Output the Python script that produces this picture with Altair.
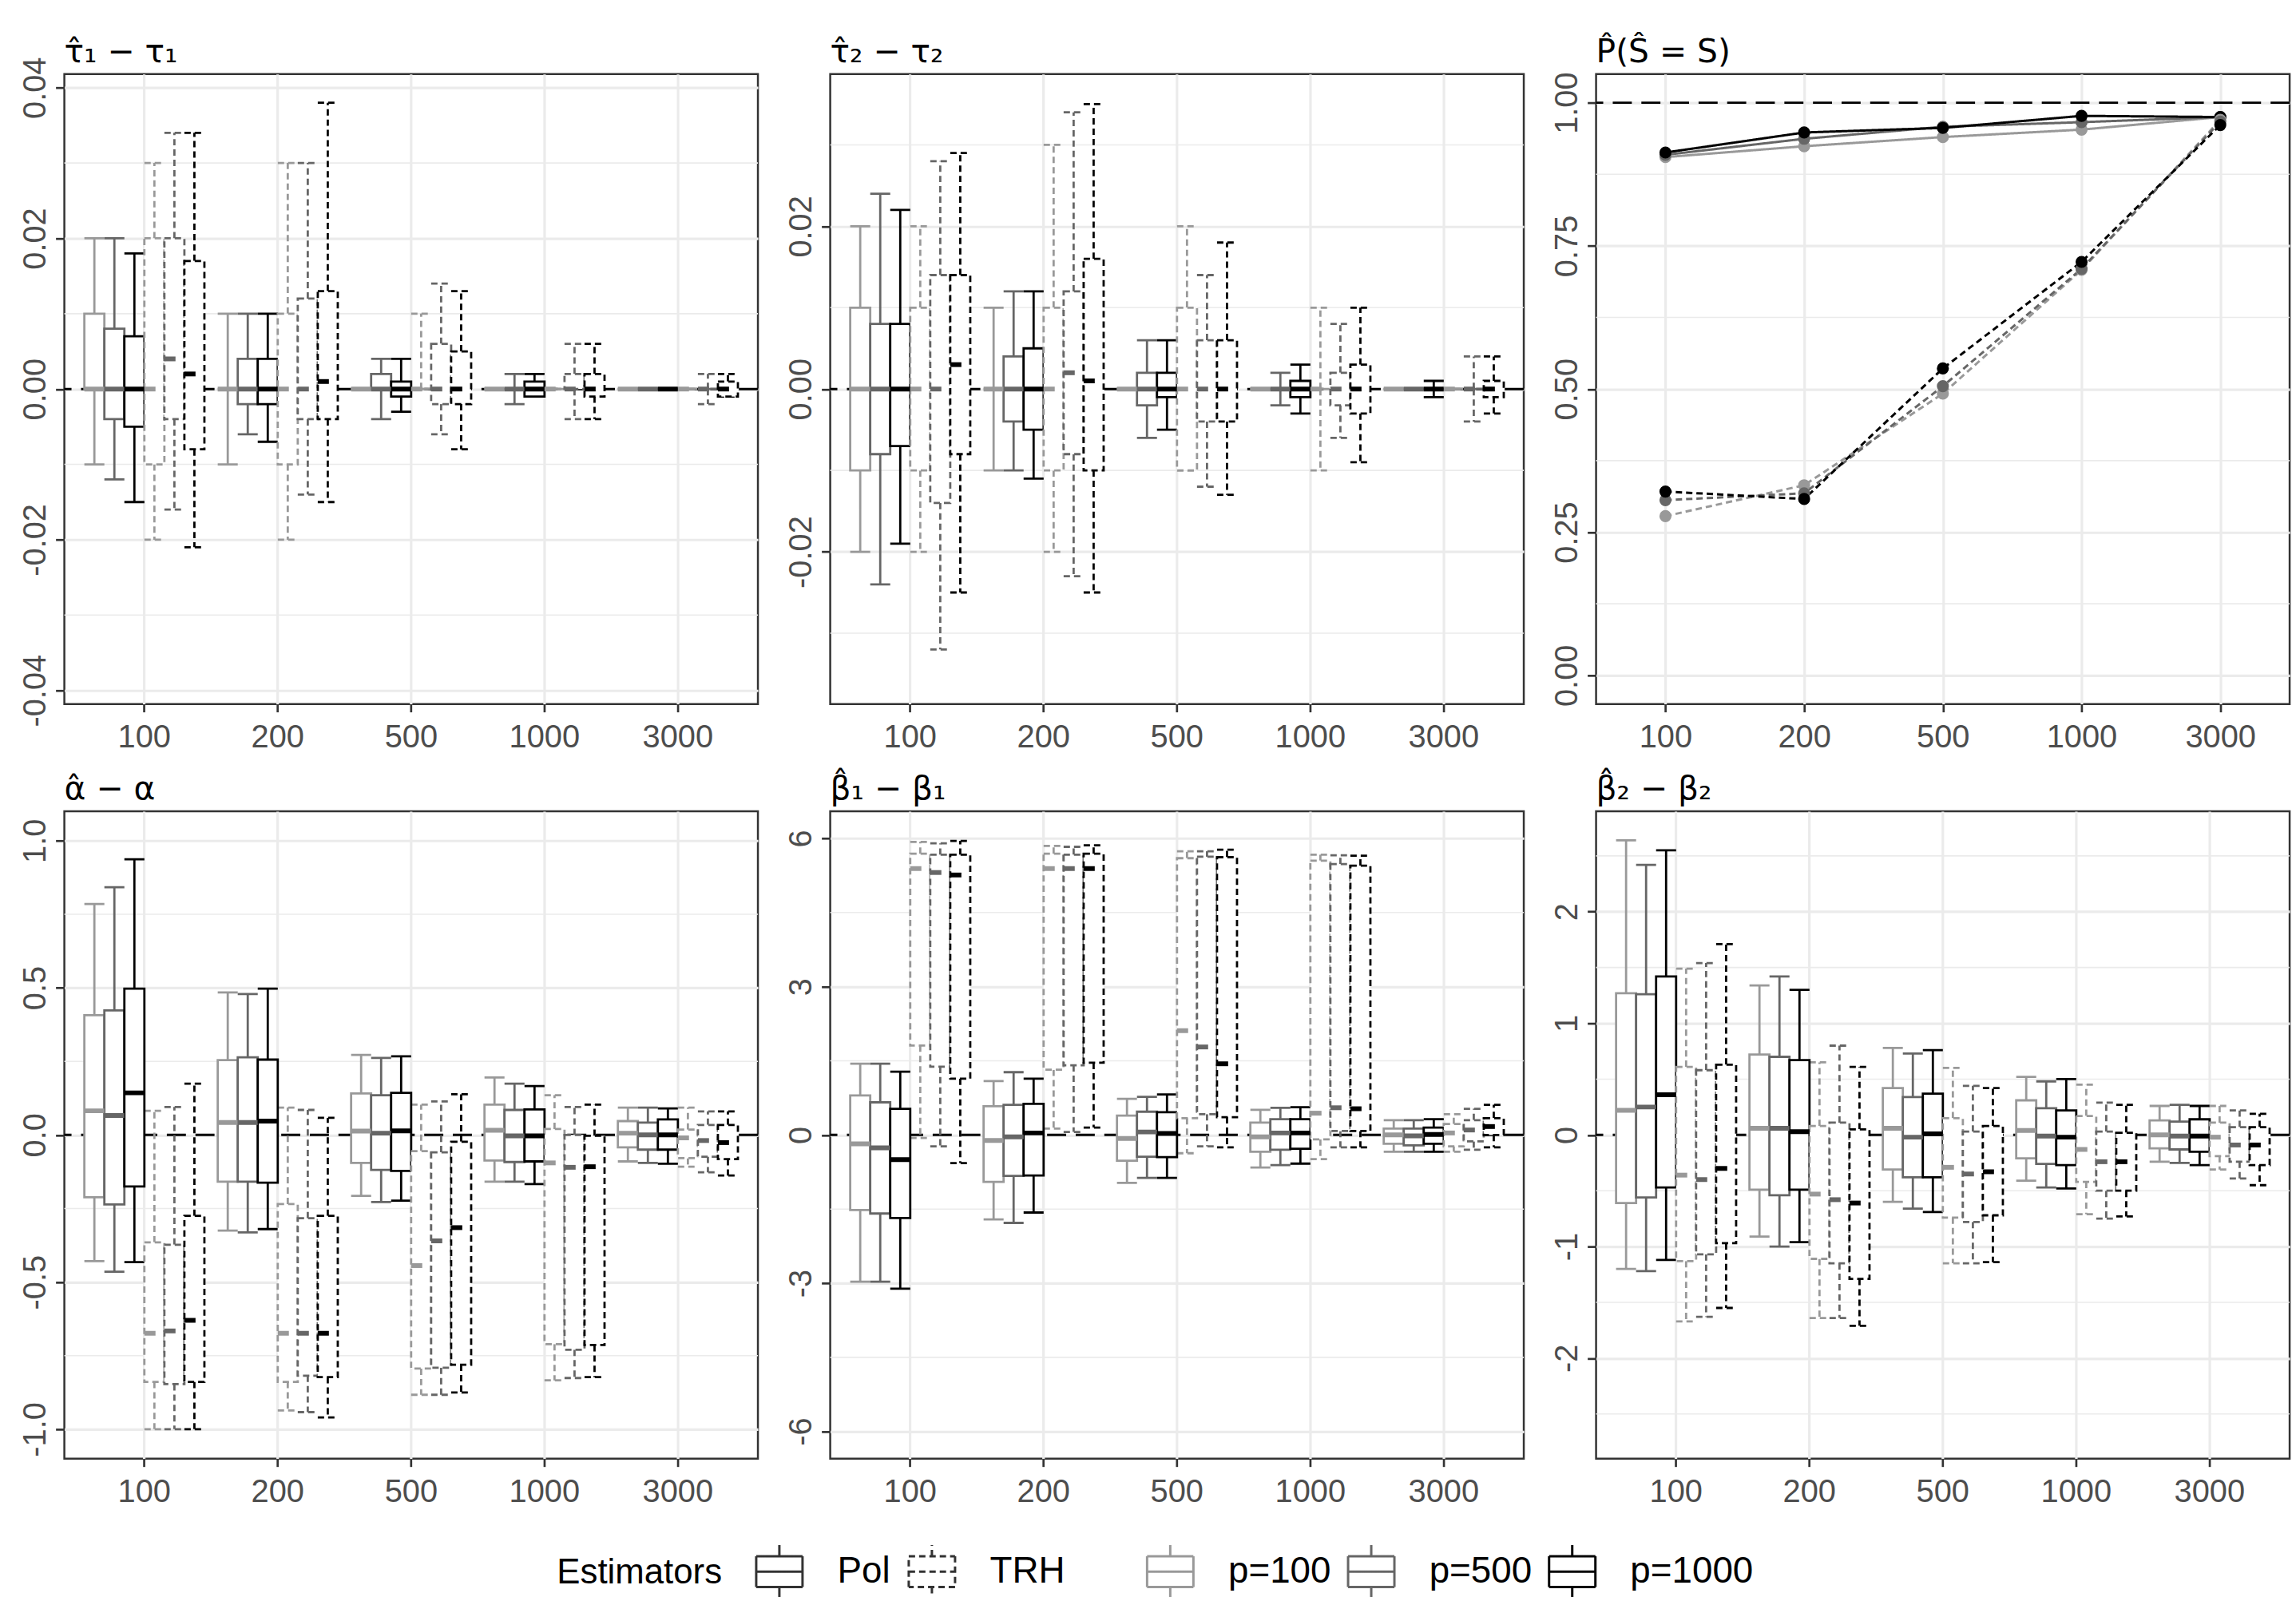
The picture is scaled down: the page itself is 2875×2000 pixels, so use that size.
import altair as alt
import pandas as pd

# ---- categories -----------------------------------------------------------
N_LABELS = ["100", "200", "500", "1000", "3000"]
P_LABELS = ["p=100", "p=500", "p=1000"]
P_COLOURS = ["#999999", "#666666", "#000000"]
ESTIMATORS = ["Pol", "TRH"]
EST_DASHES = [[1, 0], [8, 5]]
GROUPS = [f"{e} {p}" for e in ESTIMATORS for p in P_LABELS]

# ---- box summaries: per sample size (lower whisker, Q1, median, Q3, upper whisker)
TAU1 = {
    "Pol": {
        "p=100": [(-0.010, 0.000, 0.0, 0.010, 0.020), (-0.010, 0.0, 0.0, 0.0, 0.010),
                  (0.0, 0.0, 0.0, 0.0, 0.0), (0.0, 0.0, 0.0, 0.0, 0.0), (0.0, 0.0, 0.0, 0.0, 0.0)],
        "p=500": [(-0.012, -0.004, 0.0, 0.008, 0.020), (-0.006, -0.002, 0.0, 0.004, 0.010),
                  (-0.004, 0.0, 0.0, 0.002, 0.004), (-0.002, 0.0, 0.0, 0.0, 0.002), (0.0, 0.0, 0.0, 0.0, 0.0)],
        "p=1000": [(-0.015, -0.005, 0.0, 0.007, 0.018), (-0.007, -0.002, 0.0, 0.004, 0.010),
                   (-0.003, -0.001, 0.0, 0.001, 0.004), (-0.001, -0.001, 0.0, 0.001, 0.002), (0.0, 0.0, 0.0, 0.0, 0.0)],
    },
    "TRH": {
        "p=100": [(-0.020, -0.010, 0.0, 0.020, 0.030), (-0.020, -0.010, 0.0, 0.010, 0.030),
                  (0.0, 0.0, 0.0, 0.0, 0.010), (0.0, 0.0, 0.0, 0.0, 0.0), (0.0, 0.0, 0.0, 0.0, 0.0)],
        "p=500": [(-0.016, -0.004, 0.004, 0.020, 0.034), (-0.014, -0.004, 0.0, 0.012, 0.030),
                  (-0.006, -0.002, 0.0, 0.006, 0.014), (-0.004, 0.0, 0.0, 0.002, 0.006), (-0.002, 0.0, 0.0, 0.0, 0.002)],
        "p=1000": [(-0.021, -0.008, 0.002, 0.017, 0.034), (-0.015, -0.004, 0.001, 0.013, 0.038),
                   (-0.008, -0.002, 0.0, 0.005, 0.013), (-0.004, -0.001, 0.0, 0.002, 0.006), (-0.001, -0.001, 0.0, 0.001, 0.002)],
    },
}

TAU2 = {
    "Pol": {
        "p=100": [(-0.020, -0.010, 0.0, 0.010, 0.020), (-0.010, 0.0, 0.0, 0.0, 0.010),
                  (0.0, 0.0, 0.0, 0.0, 0.0), (0.0, 0.0, 0.0, 0.0, 0.0), (0.0, 0.0, 0.0, 0.0, 0.0)],
        "p=500": [(-0.024, -0.008, 0.0, 0.008, 0.024), (-0.010, -0.004, 0.0, 0.004, 0.012),
                  (-0.006, -0.002, 0.0, 0.002, 0.006), (-0.002, 0.0, 0.0, 0.0, 0.002), (0.0, 0.0, 0.0, 0.0, 0.0)],
        "p=1000": [(-0.019, -0.007, 0.0, 0.008, 0.022), (-0.011, -0.005, 0.0, 0.005, 0.012),
                   (-0.005, -0.001, 0.0, 0.002, 0.006), (-0.003, -0.001, 0.0, 0.001, 0.003), (-0.001, 0.0, 0.0, 0.0, 0.001)],
    },
    "TRH": {
        "p=100": [(-0.020, -0.010, 0.0, 0.010, 0.020), (-0.020, -0.010, 0.0, 0.010, 0.030),
                  (-0.010, -0.010, 0.0, 0.010, 0.020), (-0.010, 0.0, 0.0, 0.0, 0.010), (0.0, 0.0, 0.0, 0.0, 0.0)],
        "p=500": [(-0.032, -0.014, 0.0, 0.014, 0.028), (-0.023, -0.008, 0.002, 0.012, 0.034),
                  (-0.012, -0.004, 0.0, 0.006, 0.014), (-0.006, -0.002, 0.0, 0.002, 0.008), (-0.004, 0.0, 0.0, 0.0, 0.004)],
        "p=1000": [(-0.025, -0.008, 0.003, 0.014, 0.029), (-0.025, -0.010, 0.001, 0.016, 0.035),
                   (-0.013, -0.004, 0.0, 0.006, 0.018), (-0.009, -0.003, 0.0, 0.003, 0.010), (-0.003, -0.001, 0.0, 0.001, 0.004)],
    },
}

ALPHA = {
    "Pol": {
        "p=100": [(-0.429, -0.212, 0.082, 0.407, 0.785), (-0.325, -0.159, 0.042, 0.254, 0.484),
                  (-0.207, -0.095, 0.013, 0.141, 0.272), (-0.159, -0.087, 0.016, 0.103, 0.195), (-0.090, -0.042, 0.006, 0.047, 0.093)],
        "p=500": [(-0.465, -0.236, 0.066, 0.423, 0.842), (-0.331, -0.159, 0.042, 0.264, 0.479),
                  (-0.228, -0.119, 0.006, 0.135, 0.262), (-0.159, -0.092, -0.003, 0.085, 0.174), (-0.095, -0.050, 0.0, 0.042, 0.093)],
        "p=1000": [(-0.432, -0.175, 0.143, 0.497, 0.937), (-0.320, -0.162, 0.047, 0.256, 0.497),
                   (-0.223, -0.122, 0.014, 0.143, 0.267), (-0.167, -0.090, -0.003, 0.087, 0.166), (-0.098, -0.050, 0.0, 0.053, 0.090)],
    },
    "TRH": {
        "p=100": [(-1.000, -0.839, -0.674, -0.365, 0.082), (-0.936, -0.839, -0.674, -0.235, 0.093),
                  (-0.883, -0.794, -0.444, -0.055, 0.103), (-0.834, -0.711, -0.095, 0.020, 0.135), (-0.108, -0.079, -0.010, 0.018, 0.093)],
        "p=500": [(-1.000, -0.847, -0.666, -0.373, 0.095), (-0.942, -0.818, -0.674, -0.283, 0.085),
                  (-0.883, -0.791, -0.360, -0.059, 0.114), (-0.826, -0.730, -0.110, 0.000, 0.095), (-0.127, -0.074, -0.019, 0.034, 0.080)],
        "p=1000": [(-1.000, -0.839, -0.630, -0.275, 0.174), (-0.960, -0.823, -0.674, -0.275, 0.058),
                   (-0.875, -0.781, -0.315, -0.023, 0.138), (-0.823, -0.714, -0.108, -0.003, 0.103), (-0.138, -0.082, -0.026, 0.034, 0.080)],
    },
}

BETA1 = {
    "Pol": {
        "p=100": [(-2.97, -1.52, -0.18, 0.80, 1.44), (-1.71, -0.95, -0.11, 0.58, 1.09),
                  (-0.97, -0.52, -0.07, 0.39, 0.73), (-0.66, -0.34, -0.04, 0.25, 0.51), (-0.34, -0.18, 0.00, 0.13, 0.30)],
        "p=500": [(-2.97, -1.59, -0.26, 0.66, 1.44), (-1.78, -0.83, -0.04, 0.61, 1.27),
                  (-0.87, -0.44, 0.06, 0.47, 0.77), (-0.61, -0.30, 0.04, 0.32, 0.55), (-0.34, -0.21, -0.02, 0.13, 0.30)],
        "p=1000": [(-3.11, -1.68, -0.50, 0.53, 1.28), (-1.57, -0.82, 0.04, 0.63, 1.14),
                   (-0.87, -0.45, 0.03, 0.46, 0.82), (-0.58, -0.28, 0.04, 0.32, 0.56), (-0.34, -0.18, 0.01, 0.15, 0.32)],
    },
    "TRH": {
        "p=100": [(-0.06, 1.81, 5.39, 5.69, 5.93), (0.13, 1.32, 5.39, 5.69, 5.85),
                  (-0.37, 0.34, 2.11, 5.60, 5.74), (-0.49, -0.09, 0.44, 5.55, 5.67), (-0.34, -0.23, 0.04, 0.22, 0.42)],
        "p=500": [(-0.23, 1.38, 5.31, 5.67, 5.90), (0.06, 1.41, 5.39, 5.67, 5.83),
                  (-0.23, 0.42, 1.78, 5.63, 5.74), (-0.25, 0.08, 0.55, 5.48, 5.66), (-0.30, -0.13, 0.10, 0.30, 0.53)],
        "p=1000": [(-0.57, 1.14, 5.26, 5.67, 5.95), (0.15, 1.46, 5.39, 5.69, 5.86),
                   (-0.25, 0.36, 1.44, 5.62, 5.77), (-0.25, 0.08, 0.53, 5.45, 5.65), (-0.25, 0.00, 0.17, 0.34, 0.61)],
    },
}

BETA2 = {
    "Pol": {
        "p=100": [(-1.20, -0.61, 0.22, 1.27, 2.64), (-0.91, -0.49, 0.06, 0.72, 1.34),
                  (-0.60, -0.31, 0.06, 0.42, 0.78), (-0.41, -0.21, 0.04, 0.31, 0.52), (-0.24, -0.12, 0.00, 0.13, 0.26)],
        "p=500": [(-1.22, -0.56, 0.25, 1.26, 2.42), (-1.00, -0.54, 0.06, 0.70, 1.42),
                  (-0.66, -0.38, -0.02, 0.34, 0.73), (-0.47, -0.26, -0.01, 0.24, 0.48), (-0.25, -0.13, -0.01, 0.12, 0.27)],
        "p=1000": [(-1.12, -0.47, 0.36, 1.42, 2.55), (-0.96, -0.49, 0.03, 0.67, 1.30),
                   (-0.69, -0.38, 0.01, 0.37, 0.76), (-0.48, -0.27, -0.02, 0.22, 0.50), (-0.27, -0.15, -0.01, 0.14, 0.26)],
    },
    "TRH": {
        "p=100": [(-1.67, -1.13, -0.36, 0.61, 1.49), (-1.64, -1.11, -0.53, 0.08, 0.65),
                  (-1.15, -0.74, -0.29, 0.15, 0.60), (-0.71, -0.42, -0.13, 0.17, 0.45), (-0.31, -0.19, -0.02, 0.11, 0.26)],
        "p=500": [(-1.63, -1.07, -0.40, 0.58, 1.54), (-1.64, -1.15, -0.58, 0.11, 0.80),
                  (-1.15, -0.78, -0.35, 0.03, 0.44), (-0.75, -0.50, -0.24, 0.03, 0.29), (-0.39, -0.24, -0.09, 0.07, 0.22)],
        "p=1000": [(-1.55, -0.97, -0.30, 0.63, 1.71), (-1.71, -1.29, -0.61, 0.05, 0.61),
                   (-1.14, -0.72, -0.33, 0.08, 0.42), (-0.73, -0.50, -0.24, 0.02, 0.27), (-0.45, -0.27, -0.09, 0.07, 0.19)],
    },
}

# ---- probability of recovering the true active set ------------------------
SELECTION = {
    "Pol": {
        "p=100": [0.905, 0.924, 0.940, 0.953, 0.975],
        "p=500": [0.909, 0.937, 0.958, 0.966, 0.975],
        "p=1000": [0.913, 0.948, 0.956, 0.977, 0.975],
    },
    "TRH": {
        "p=100": [0.278, 0.332, 0.492, 0.708, 0.970],
        "p=500": [0.306, 0.318, 0.505, 0.710, 0.967],
        "p=1000": [0.321, 0.308, 0.536, 0.722, 0.961],
    },
}

ZERO_LINE = [0.0]
TARGET_LINE = [1.0]

# ---- styling --------------------------------------------------------------
FONT = "Liberation Sans"
TITLE_FONT = "DejaVu Sans"
INK = "#333333"
GRID = "#EBEBEB"
TICK_TEXT = "#4D4D4D"
PANEL_W = 873
ROW1_H = 793
ROW2_H = 815
# legend key drawn as separate strokes so that it never picks up a fill
BOX_GLYPH = ("M-0.87,-0.58H0.87 M0.87,-0.58V0.58 M0.87,0.58H-0.87 M-0.87,0.58V-0.58 "
             "M-0.87,0H0.87 M0,-0.58V-1 M0,0.58V1")
PANEL_FRAME = alt.ViewBackground(stroke=INK, strokeWidth=2.5, fill="white")

COLOUR_SCALE = alt.Scale(domain=P_LABELS, range=P_COLOURS)
DASH_SCALE = alt.Scale(domain=ESTIMATORS, range=EST_DASHES)
X_SCALE = alt.Scale(domain=N_LABELS, paddingInner=0, paddingOuter=0.1)
OFFSET_SCALE = alt.Scale(domain=GROUPS, paddingInner=0, paddingOuter=1 / 3)

EST_LEGEND = alt.Legend(
    title="Estimators", orient="none", legendX=620, legendY=1850, direction="horizontal",
    titleOrient="left", titleFontSize=44, titleFontWeight="normal", titleColor="black",
    titleFont=FONT, titlePadding=37, titleLimit=600,
    labelFontSize=46, labelFont=FONT, labelColor="black", labelOffset=38, labelLimit=400,
    symbolType=BOX_GLYPH, symbolSize=4489, symbolStrokeWidth=3, symbolStrokeColor=INK,
    symbolFillColor="white", columnPadding=16,
)
P_LEGEND = alt.Legend(
    title=None, orient="none", legendX=1357, legendY=1850, direction="horizontal",
    labelFontSize=46, labelFont=FONT, labelColor="black", labelOffset=38, labelLimit=400,
    symbolType=BOX_GLYPH, symbolSize=4489, symbolStrokeWidth=3, symbolFillColor="white",
    symbolDash=[1, 0], columnPadding=14,
)

X_AXIS = alt.Axis(
    title=None, labelAngle=0, labelFontSize=40, labelFont=FONT, labelColor=TICK_TEXT,
    labelPadding=12, tickSize=10, tickColor=INK, tickWidth=2.7, domain=False,
    grid=True, gridColor=GRID, gridWidth=3.2,
)


def y_axis(values, fmt):
    return alt.Axis(
        title=None, values=values, format=fmt,
        labelExpr="replace(datum.label, '\u2212', '-')",
        labelAngle=270, labelAlign="center", labelBaseline="alphabetic",
        labelFontSize=40, labelFont=FONT, labelColor=TICK_TEXT, labelPadding=13,
        labelOverlap=False, labelFlush=False,
        tickSize=11, tickColor=INK, tickWidth=2.7, domain=False,
        grid=True, gridColor=GRID, gridWidth=3.2,
    )


def panel_title(text, offset):
    return alt.TitleParams(
        text=text, anchor="start", frame="group", offset=offset, baseline="alphabetic",
        fontSize=41, font=TITLE_FONT, fontWeight="normal", color="black",
    )


def summaries(stats):
    rows = []
    for est in ESTIMATORS:
        for p in P_LABELS:
            for n, (lo, q1, med, q3, hi) in zip(N_LABELS, stats[est][p]):
                rows.append({"n": n, "est": est, "p": p, "grp": f"{est} {p}",
                             "lo": lo, "q1": q1, "med": med, "q3": q3, "hi": hi})
    return pd.DataFrame(rows)


def guide_layers(yscale, yaxis, minor, ref):
    minor_grid = alt.Chart(pd.DataFrame({"v": minor})).mark_rule(
        color=GRID, strokeWidth=1.6
    ).encode(y=alt.Y("v:Q", scale=yscale, axis=yaxis))
    ref_line = alt.Chart(pd.DataFrame({"v": ref})).mark_rule(
        color="black", strokeWidth=3, strokeDash=[24, 12]
    ).encode(y=alt.Y("v:Q", scale=yscale, axis=yaxis))
    return minor_grid, ref_line


def box_panel(stats, title, title_offset, domain, major, minor, fmt, height, legend=False):
    df = summaries(stats)
    yscale = alt.Scale(domain=domain, nice=False, zero=False)
    yaxis = y_axis(major, fmt)
    x = alt.X("n:N", sort=N_LABELS, scale=X_SCALE, axis=X_AXIS)
    xo = alt.XOffset("grp:N", sort=GROUPS, scale=OFFSET_SCALE)
    stroke_plain = alt.Stroke("p:N", scale=COLOUR_SCALE, legend=None)
    dash_plain = alt.StrokeDash("est:N", scale=DASH_SCALE, legend=None)
    stroke = alt.Stroke("p:N", scale=COLOUR_SCALE, legend=P_LEGEND) if legend else stroke_plain
    dash = alt.StrokeDash("est:N", scale=DASH_SCALE, legend=EST_LEGEND) if legend else dash_plain
    cap_dash = alt.condition("datum.est == 'TRH'", alt.value([8, 5, 8, 31]), alt.value([1, 0]))
    med_dash = alt.condition("datum.est == 'TRH'", alt.value([14, 40]), alt.value([1, 0]))

    base = alt.Chart(df)
    minor_grid, zero_line = guide_layers(yscale, yaxis, minor, ZERO_LINE)

    upper = base.mark_rule(strokeWidth=2.8).encode(
        x=x, xOffset=xo, y=alt.Y("q3:Q", scale=yscale, axis=yaxis), y2="hi:Q",
        stroke=stroke, strokeDash=dash)
    lower = base.mark_rule(strokeWidth=2.8).encode(
        x=x, xOffset=xo, y=alt.Y("q1:Q", scale=yscale, axis=yaxis), y2="lo:Q",
        stroke=stroke_plain, strokeDash=dash_plain)
    cap_hi = base.mark_bar(fillOpacity=0, strokeWidth=2.8).encode(
        x=x, xOffset=xo, y=alt.Y("hi:Q", scale=yscale, axis=yaxis), y2="hi:Q",
        stroke=stroke_plain, strokeDash=cap_dash)
    cap_lo = base.mark_bar(fillOpacity=0, strokeWidth=2.8).encode(
        x=x, xOffset=xo, y=alt.Y("lo:Q", scale=yscale, axis=yaxis), y2="lo:Q",
        stroke=stroke_plain, strokeDash=cap_dash)
    box = base.mark_bar(fill="white", strokeWidth=2.8).encode(
        x=x, xOffset=xo, y=alt.Y("q3:Q", scale=yscale, axis=yaxis), y2="q1:Q",
        stroke=stroke_plain, strokeDash=dash_plain)
    median = base.mark_bar(fillOpacity=0, strokeWidth=6).encode(
        x=x, xOffset=xo, y=alt.Y("med:Q", scale=yscale, axis=yaxis), y2="med:Q",
        stroke=stroke_plain, strokeDash=med_dash)

    return alt.layer(minor_grid, zero_line, upper, lower, cap_hi, cap_lo, box, median).properties(
        width=PANEL_W, height=height, title=panel_title(title, title_offset), view=PANEL_FRAME)


def selection_panel(height, title_offset):
    rows = []
    for est in ESTIMATORS:
        for p in P_LABELS:
            for n, v in zip(N_LABELS, SELECTION[est][p]):
                rows.append({"n": n, "est": est, "p": p, "grp": f"{est} {p}", "v": v})
    df = pd.DataFrame(rows)
    yscale = alt.Scale(domain=[-0.05, 1.05], nice=False, zero=False)
    yaxis = y_axis([0, 0.25, 0.5, 0.75, 1.0], ".2f")
    x = alt.X("n:N", sort=N_LABELS, scale=X_SCALE, axis=X_AXIS)
    minor_grid, target = guide_layers(yscale, yaxis, [0.125, 0.375, 0.625, 0.875], TARGET_LINE)
    lines = alt.Chart(df).mark_line(strokeWidth=3).encode(
        x=x, y=alt.Y("v:Q", scale=yscale, axis=yaxis),
        stroke=alt.Stroke("p:N", scale=COLOUR_SCALE, legend=None),
        strokeDash=alt.StrokeDash("est:N", scale=DASH_SCALE, legend=None),
        detail="grp:N")
    points = alt.Chart(df).mark_circle(size=230, opacity=1).encode(
        x=x, y=alt.Y("v:Q", scale=yscale, axis=yaxis),
        fill=alt.Fill("p:N", scale=COLOUR_SCALE, legend=None))
    return alt.layer(minor_grid, target, lines, points).properties(
        width=PANEL_W, height=height, title=panel_title("P\u0302(\u015c = S)", title_offset),
        view=PANEL_FRAME)


p1 = box_panel(TAU1, "\u03c4\u0302\u2081 \u2212 \u03c4\u2081", -48, [-0.0418, 0.0418],
               [-0.04, -0.02, 0.0, 0.02, 0.04], [-0.03, -0.01, 0.01, 0.03], ".2f", ROW1_H, legend=True)
p2 = box_panel(TAU2, "\u03c4\u0302\u2082 \u2212 \u03c4\u2082", -26, [-0.0387, 0.0387],
               [-0.02, 0.0, 0.02], [-0.03, -0.01, 0.01, 0.03], ".2f", ROW1_H)
p3 = selection_panel(ROW1_H, -29)
p4 = box_panel(ALPHA, "\u03b1\u0302 \u2212 \u03b1", -26, [-1.1, 1.1],
               [-1.0, -0.5, 0.0, 0.5, 1.0], [-0.75, -0.25, 0.25, 0.75], ".1f", ROW2_H)
p5 = box_panel(BETA1, "\u03b2\u0302\u2081 \u2212 \u03b2\u2081", -26, [-6.55, 6.55],
               [-6, -3, 0, 3, 6], [-4.5, -1.5, 1.5, 4.5], "d", ROW2_H)
p6 = box_panel(BETA2, "\u03b2\u0302\u2082 \u2212 \u03b2\u2082", -26, [-2.9, 2.9],
               [-2, -1, 0, 1, 2], [-2.5, -1.5, -0.5, 0.5, 1.5, 2.5], "d", ROW2_H)

row1 = alt.hconcat(p1, p2, p3, spacing=30)
row2 = alt.hconcat(p4, p5, p6, spacing=30)

chart = (
    alt.vconcat(row1, row2, spacing=21)
    .properties(padding={"left": 23, "top": 38, "right": 5, "bottom": 0}, background="white")
    .configure(font=FONT)
    .configure_view(stroke=INK, strokeWidth=2.5)
)

chart.save("out.html", embed_options={"renderer": "svg", "actions": False})
